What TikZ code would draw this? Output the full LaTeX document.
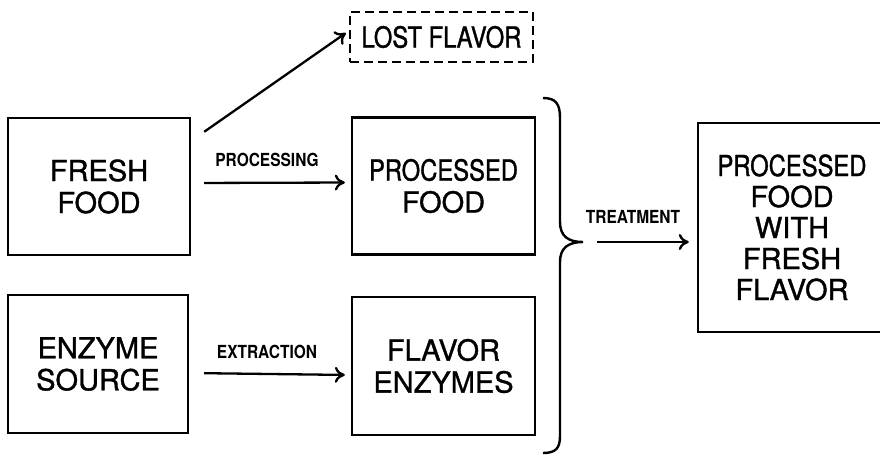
\documentclass[tikz,border=0pt]{standalone}
\usepackage{xcolor}
\usepackage{fontspec}
\setmainfont{TeX Gyre Heros}[FakeBold=1.2]
\newfontfamily\narrowfont{TeX Gyre Heros}[FakeStretch=0.82,FakeBold=1.2]
\newfontfamily\labelfont{TeX Gyre Heros}[FakeStretch=0.86]
\usetikzlibrary{arrows.meta}

\tikzset{
  box/.style={draw, line width=2.4pt, align=center, inner sep=0pt,
    font=\fontsize{29}{32}\selectfont},
  lbl/.style={font=\labelfont\bfseries\fontsize{18}{20}\selectfont},
  flow/.style={line width=2.3pt, -{To[length=10pt,width=16pt]}}
}

\begin{document}
\begin{tikzpicture}[x=1pt,y=-1pt]
\useasboundingbox (0,0) rectangle (880,455);

% --- INPUTS ---
\node[box, minimum width=182pt, minimum height=137pt] (fresh) at (99,186.5) {FRESH\\FOOD};
\node[box, minimum width=180pt, minimum height=138pt] (source) at (98,364) {ENZYME\\SOURCE};

% --- INTERMEDIATES ---
\node[box, minimum width=183pt, minimum height=137pt] (processed) at (443.5,186) {{\narrowfont PROCESSED}\\FOOD};
\node[box, minimum width=183pt, minimum height=138pt] (enzymes) at (443.5,366) {FLAVOR\\ENZYMES};
\node[box, dash pattern=on 9pt off 5pt, minimum width=183pt, minimum height=50pt,
  font=\narrowfont\fontsize{29}{32}\selectfont] (lost) at (441.5,37) {LOST FLAVOR};

% --- RESULT (runs off the right edge) ---
\node[box, minimum width=188pt, minimum height=209pt, font=\fontsize{29}{31}\selectfont]
  (result) at (792,227.5) {{\narrowfont PROCESSED}\\FOOD\\WITH\\FRESH\\FLAVOR};

% --- ARROWS ---
\draw[flow, shorten <=13pt, shorten >=6pt] ([yshift=3.5]fresh.east) -- ([yshift=3.5]processed.west);
\draw[flow, shorten <=15pt, shorten >=6pt] ([yshift=-9]source.east) -- ([yshift=-9]enzymes.west);
\draw[flow] ([shift={(13,15)}]fresh.north east) -- ([shift={(-3,-4)}]lost.west);

\node[lbl] (proclbl) at (267,160) {PROCESSING};
\node[lbl] (extrlbl) at (267,352) {EXTRACTION};
\node[lbl] (treatlbl) at (633,217) {TREATMENT};

% --- BRACE ---
\coordinate (tip) at (583,242);
\draw[line width=2.4pt]
  (543,98) .. controls (556,98) and (560,104) .. (560,118) -- (560,222)
  .. controls (560,236) and (568,242) .. (tip)
  .. controls (568,242) and (560,248) .. (560,262) -- (560,436)
  .. controls (560,448) and (556,453) .. (543,453);

\draw[flow, shorten <=14pt, shorten >=8pt] (tip) -- (tip -| result.west);

\end{tikzpicture}
\end{document}
